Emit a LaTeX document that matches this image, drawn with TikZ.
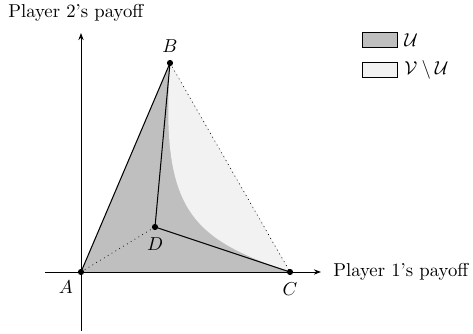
\documentclass[tikz,border=0pt]{standalone}
\usetikzlibrary{arrows.meta}
\begin{document}
\begin{tikzpicture}[x=0.535pt,y=-0.535pt,
  dot/.style={circle,fill=black,inner sep=0pt,minimum size=3.3pt},
  axis/.style={-{Stealth[length=3.8pt,width=2.8pt]},line width=0.45pt},
  edge/.style={line width=0.55pt},
  dotedge/.style={dotted,line width=0.4pt},
  legbox/.style={draw=black,line width=0.5pt,minimum width=19pt,minimum height=7.8pt,inner sep=0pt}]
\useasboundingbox (0,0) rectangle (473,334);
\coordinate (A) at (81,272);
\coordinate (B) at (170,63);
\coordinate (C) at (290,272);
\coordinate (D) at (155,227);
% regions
\fill[gray!50] (A) -- (B) -- (C) -- cycle;
\fill[gray!10] (B) .. controls (160,212) and (192,238) .. (C) -- cycle;
% axes
\coordinate (xs) at (45,272);
\coordinate (xe) at (321,272);
\coordinate (ys) at (81,331);
\coordinate (ye) at (81,33);
\draw[axis] (xs) -- (xe);
\draw[axis] (ys) -- (ye);
\node[anchor=west,inner sep=0pt] (xl) at (333,272) {Player 1's payoff};
\node[anchor=west,inner sep=0pt] (yl) at (8,13) {Player 2's payoff};
% edges
\draw[edge] (A) -- (B);
\draw[edge] (B) -- (D);
\draw[edge] (D) -- (C);
\draw[dotedge] (A) -- (D);
\draw[dotedge] (B) -- (C);
% points
\node[dot] (a) at (A) {};
\node[dot] (b) at (B) {};
\node[dot] (c) at (C) {};
\node[dot] (d) at (D) {};
\node (la) at (66,287) {$A$};
\node (lb) at (170,46) {$B$};
\node (lc) at (290,289) {$C$};
\node (ld) at (155,244) {$D$};
% legend
\node[legbox,fill=gray!50] (k1) at (380,40) {};
\node[legbox,fill=gray!10] (k2) at (380,70) {};
\node[anchor=west,inner sep=0pt] (t1) at (404,40) {$\mathcal{U}$};
\node[anchor=west,inner sep=0pt] (t2) at (404,70) {$\mathcal{V}\setminus\mathcal{U}$};
\end{tikzpicture}
\end{document}
